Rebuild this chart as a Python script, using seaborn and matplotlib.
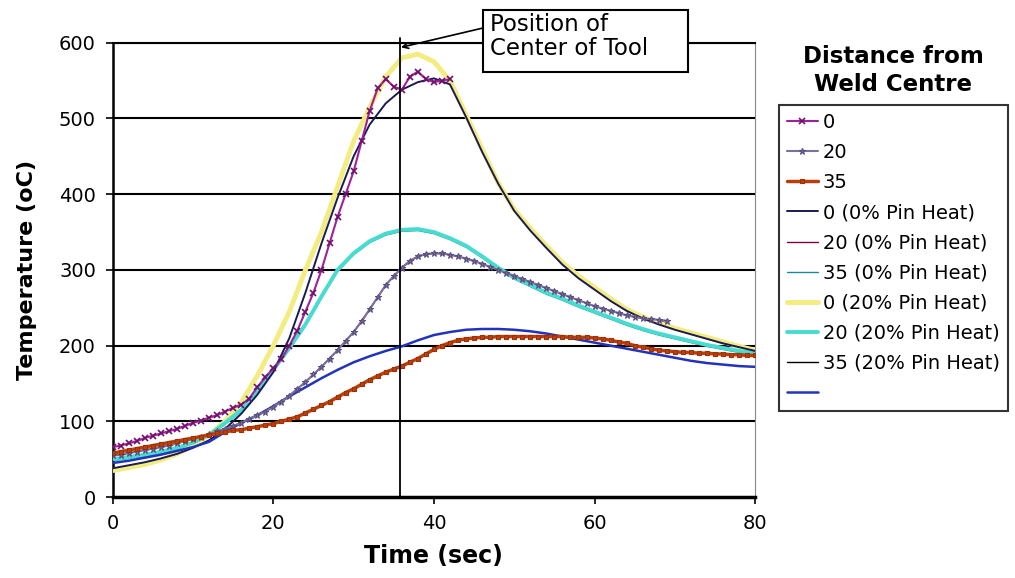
import pandas as pd
import matplotlib
matplotlib.use('Agg')
import matplotlib.pyplot as plt
from matplotlib.patches import Rectangle
import seaborn as sns

# Measured data (1 s steps)
t_exp0 = list(range(0, 43))
temp_exp0 = [66, 68, 71, 74, 78, 81, 84, 87, 90, 94, 98, 101, 105, 108, 113, 118, 122, 130,
             145, 158, 170, 182, 200, 220, 245, 270, 300, 335, 370, 400, 430, 470, 510, 540,
             552, 542, 538, 555, 562, 552, 548, 550, 552]
t_exp20 = list(range(0, 70))
temp_exp20 = [55, 56, 58, 60, 62, 64, 66, 68, 71, 74, 77, 80, 83, 87, 90, 94, 98, 103, 108, 113,
              119, 126, 134, 143, 152, 162, 172, 183, 194, 206, 218, 232, 248, 264, 280, 292, 303,
              312, 318, 321, 322, 322, 320, 318, 315, 312, 308, 304, 300, 296, 292, 288, 284, 280,
              276, 272, 268, 264, 260, 256, 252, 249, 246, 243, 240, 238, 236, 235, 234, 233]
t_exp35 = list(range(0, 81))
temp_exp35 = [58, 60, 62, 64, 66, 68, 70, 72, 74, 76, 78, 80, 82, 84, 86, 88, 89, 91, 93, 95,
              97, 100, 103, 106, 111, 116, 121, 126, 132, 138, 143, 149, 155, 160, 165, 169, 173,
              178, 183, 189, 195, 200, 204, 207, 209, 210, 211, 211, 212, 212, 212, 212, 212, 212,
              212, 212, 212, 211, 211, 211, 210, 209, 207, 205, 203, 200, 198, 196, 194, 193, 192,
              191, 191, 190, 190, 189, 189, 188, 188, 187, 187]

# Model curves (2 s steps)
t_model = list(range(0, 81, 2))
m0_0 = [38, 42, 46, 51, 57, 65, 75, 90, 110, 135, 165, 210, 270, 335, 395, 450, 492, 520, 538,
        548, 553, 545, 502, 456, 414, 378, 352, 329, 307, 289, 274, 259, 246, 236, 228, 221,
        215, 209, 203, 198, 193]
m20_0 = [55, 58, 62, 66, 71, 77, 83, 90, 98, 108, 119, 134, 152, 172, 194, 218, 248, 280, 303,
         318, 322, 320, 315, 308, 300, 292, 284, 276, 268, 260, 252, 246, 240, 236, 234, 224,
         216, 209, 203, 198, 194]
m35_0 = [48, 51, 54, 58, 63, 70, 80, 96, 113, 138, 166, 195, 226, 263, 298, 320, 336, 346, 351,
         352, 348, 340, 330, 316, 301, 288, 278, 268, 260, 251, 243, 235, 227, 220, 214, 209,
         204, 199, 195, 191, 188]
m0_20 = [35, 39, 43, 49, 57, 68, 82, 100, 125, 160, 200, 245, 300, 350, 410, 470, 515, 555, 580,
         585, 575, 550, 505, 460, 415, 380, 355, 332, 310, 292, 277, 262, 248, 238, 230, 223,
         217, 211, 205, 199, 194]
m20_20 = [50, 53, 56, 60, 65, 72, 82, 98, 115, 140, 168, 197, 228, 265, 300, 322, 338, 348, 353,
          354, 350, 342, 332, 318, 303, 290, 280, 270, 262, 253, 245, 237, 229, 222, 216, 211,
          206, 201, 197, 193, 190]
m35_20 = [58, 62, 66, 70, 74, 78, 82, 86, 89, 93, 97, 103, 111, 121, 132, 143, 155, 165, 173,
          183, 195, 204, 209, 211, 212, 212, 212, 212, 212, 211, 210, 207, 203, 198, 194, 192,
          191, 190, 189, 188, 187]
m_extra = [45, 48, 52, 56, 61, 66, 73, 86, 98, 108, 120, 133, 145, 157, 168, 178, 186, 193, 199,
           207, 214, 218, 221, 222, 222, 221, 219, 216, 212, 208, 204, 200, 196, 192, 188, 184,
           180, 177, 175, 173, 172]

sns.set_style('white')
plt.rcParams['font.family'] = ['DejaVu Sans']
plt.rcParams['text.color'] = 'black'
plt.rcParams['axes.labelcolor'] = 'black'
plt.rcParams['xtick.color'] = 'black'
plt.rcParams['ytick.color'] = 'black'
fig = plt.figure(figsize=(10.15, 5.78), dpi=100)
ax = fig.add_axes([0.111, 0.140, 0.633, 0.786])

# model lines lying under other curves
sns.lineplot(x=t_model, y=m20_0, ax=ax, color='#800040', lw=1.0, label='20 (0% Pin Heat)', zorder=2)
sns.lineplot(x=t_model, y=m35_0, ax=ax, color='#1a8a9a', lw=1.0, label='35 (0% Pin Heat)', zorder=2)
sns.lineplot(x=t_model, y=m35_20, ax=ax, color='#000000', lw=1.0, label='35 (20% Pin Heat)', zorder=2)

sns.lineplot(x=t_model, y=m0_20, ax=ax, color='#f3ec80', lw=3.5, label='0 (20% Pin Heat)', zorder=3)
sns.lineplot(x=t_model, y=m20_20, ax=ax, color='#48dcd0', lw=2.8, label='20 (20% Pin Heat)', zorder=3)
sns.lineplot(x=t_model, y=m0_0, ax=ax, color='#1a1a55', lw=1.4, label='0 (0% Pin Heat)', zorder=4)
sns.lineplot(x=t_model, y=m_extra, ax=ax, color='#2233bb', lw=1.8, label=' ', zorder=4)

sns.lineplot(x=t_exp0, y=temp_exp0, ax=ax, color='#a0209a', lw=1.5, ls='-', marker='x', ms=4,
             mew=1.2, mec='#70106a', label='0', zorder=5)
sns.lineplot(x=t_exp20, y=temp_exp20, ax=ax, color='#7a70a0', lw=1.5, ls='-', marker='*', ms=5,
             mew=0.8, mec='#5a5080', label='20', zorder=5)
sns.lineplot(x=t_exp35, y=temp_exp35, ax=ax, color='#b8400e', lw=2.5, ls='-', marker='s', ms=3.5,
             mew=0.8, mec='#a03000', label='35', zorder=5)

ax.set_xlim(0, 80)
ax.set_ylim(0, 600)
ax.set_xticks([0, 20, 40, 60, 80])
ax.set_yticks(range(0, 601, 100))
ax.tick_params(axis='y', labelsize=14, length=5, width=1.2, direction='out', pad=7, left=True)
ax.tick_params(axis='x', labelsize=14, length=5, width=1.2, direction='out', pad=7, bottom=True)
for yv in range(100, 601, 100):
    ax.axhline(yv, color='black', lw=1.5, zorder=1)
for sp in ['bottom', 'left', 'top', 'right']:
    ax.spines[sp].set_visible(True)
    ax.spines[sp].set_color('black')
ax.spines['bottom'].set_linewidth(2.5)
ax.spines['left'].set_linewidth(1.8)
ax.spines['top'].set_linewidth(1.5)
ax.spines['right'].set_color('#888888')
ax.set_xlabel('Time (sec)', fontsize=17, fontweight='bold', labelpad=8)
ax.set_ylabel('Temperature (oC)', fontsize=16, fontweight='bold', labelpad=16)

# tool position
ax.axvline(35.8, color='black', lw=1.3, zorder=6, ymax=1.01, clip_on=False)
fig.patches.append(Rectangle((483 / 1015, 1 - 72 / 578), 205 / 1015, 62 / 578,
                             transform=fig.transFigure, fc='white', ec='black', lw=1.5))
fig.text(490 / 1015, 1 - 13 / 578, 'Position of\nCenter of Tool', fontsize=16.5,
         va='top', ha='left', linespacing=1.05)
ax.annotate('', xy=(35.9, 594), xycoords='data',
            xytext=(483 / 1015, 1 - 28 / 578), textcoords='figure fraction',
            arrowprops=dict(arrowstyle='->', color='black', lw=1.2, shrinkA=0, shrinkB=0))

# legend
handles, labels = ax.get_legend_handles_labels()
order = ['0', '20', '35', '0 (0% Pin Heat)', '20 (0% Pin Heat)', '35 (0% Pin Heat)',
         '0 (20% Pin Heat)', '20 (20% Pin Heat)', '35 (20% Pin Heat)', ' ']
hmap = dict(zip(labels, handles))
leg = ax.legend([hmap[k] for k in order], order, loc='upper left',
                bbox_to_anchor=(0.7675, 0.818), bbox_transform=fig.transFigure,
                fontsize=14, frameon=True, fancybox=False, edgecolor='black',
                handlelength=1.6, handletextpad=0.25, labelspacing=0.57, borderpad=0.4,
                borderaxespad=0)
leg.get_frame().set_linewidth(1.5)
fig.text(0.880, 0.878, 'Distance from\nWeld Centre', ha='center', va='center',
         fontsize=16.5, fontweight='bold', linespacing=1.25)

fig.savefig('out.png', dpi=100)
